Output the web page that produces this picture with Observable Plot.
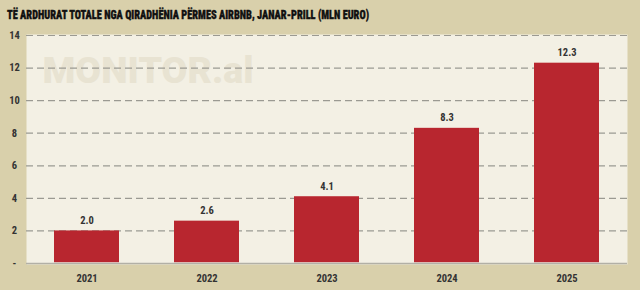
<!DOCTYPE html>
<html>
<head>
<meta charset="utf-8">
<script src="https://cdn.jsdelivr.net/npm/d3@7"></script>
<script src="https://cdn.jsdelivr.net/npm/@observablehq/plot@0.6"></script>
<style>
  html, body { margin: 0; padding: 0; background: #d9d0ab; }
  #wrap { width: 640px; height: 290px; overflow: hidden; background: #d9d0ab; }
  #title {
    height: 24px; box-sizing: border-box; padding: 5px 0 0 7px;
  }
  #title span {
    display: inline-block; transform-origin: 0 50%;
    font-family: "Roboto Condensed", "Roboto", sans-serif; font-stretch: condensed;
    font-weight: 900; font-size: 12.5px; line-height: 13px; color: #111;
    -webkit-text-stroke: 0.35px #111;
    white-space: nowrap;
  }
  svg { display: block; }
</style>
</head>
<body>
<div id="wrap">
  <div id="title"><span>TË ARDHURAT TOTALE NGA QIRADHËNIA PËRMES AIRBNB, JANAR-PRILL (MLN EURO)</span></div>
  <div id="chart"></div>
</div>
<script>
const years = ["2021", "2022", "2023", "2024", "2025"];
const values = [2.0, 2.6, 4.1, 8.3, 12.3];
const valueLabels = ["2.0", "2.6", "4.1", "8.3", "12.3"];
const yTicks = [0, 2, 4, 6, 8, 10, 12, 14];
const yTickLabels = ["-", "2", "4", "6", "8", "10", "12", "14"];
const watermark = ["MONITOR.al"];

const data = years.map((y, i) => ({year: y, value: values[i], label: valueLabels[i]}));
const ticks = yTicks.map((v, i) => ({v, label: yTickLabels[i]}));

const font = "'Roboto Condensed', Roboto, sans-serif";

const chart = Plot.plot({
  width: 640,
  height: 266,
  marginLeft: 26,
  marginRight: 13,
  marginTop: 10,
  marginBottom: 26,
  style: {background: "transparent", fontFamily: font, fontSize: "10px", color: "#333"},
  x: {domain: years, range: [26.5, 626.5], paddingInner: 0.46, paddingOuter: 0.23, label: null},
  y: {domain: [0, 14], range: [239, 11], label: null, axis: null},
  marks: [
    Plot.frame({fill: "#f3f0e4", stroke: null}),
    Plot.text(watermark, {
      frameAnchor: "top-left", dx: 16, dy: 22, text: d => d,
      fontSize: 37.5, fontWeight: 900, fill: "#e8e3d2",
      fontFamily: "Roboto, 'DejaVu Sans', sans-serif", textAnchor: "start", lineAnchor: "top"
    }),
    Plot.ruleY(yTicks.filter(v => v > 0), {stroke: "#9b9a92", strokeWidth: 1.2, strokeDasharray: "7,4"}),
    Plot.ruleY([0], {stroke: "#b2b0a6", strokeWidth: 1.5}),
    Plot.barY(data, {x: "year", y: "value", fill: "#b8262f", insetBottom: 0.8}),
    Plot.text(data, {
      x: "year", y: "value", text: "label", dy: -7, lineAnchor: "bottom",
      fill: "#333", fontSize: 10.5, fontWeight: 700
    }),
    Plot.text(ticks, {
      y: "v", text: "label", frameAnchor: "left", dx: -12, textAnchor: "middle",
      fill: "#333", fontSize: 10.5, fontWeight: 700
    }),
    Plot.axisX({tickSize: 0, tickPadding: 10, fontSize: 10.5, fontWeight: 700, fill: "#333", label: null})
  ]
});
document.getElementById("chart").appendChild(chart);

// fit the title to the reference's width
const t = document.querySelector("#title span");
const w = t.getBoundingClientRect().width;
t.style.transform = `scaleX(${362 / w})`;
</script>
</body>
</html>
